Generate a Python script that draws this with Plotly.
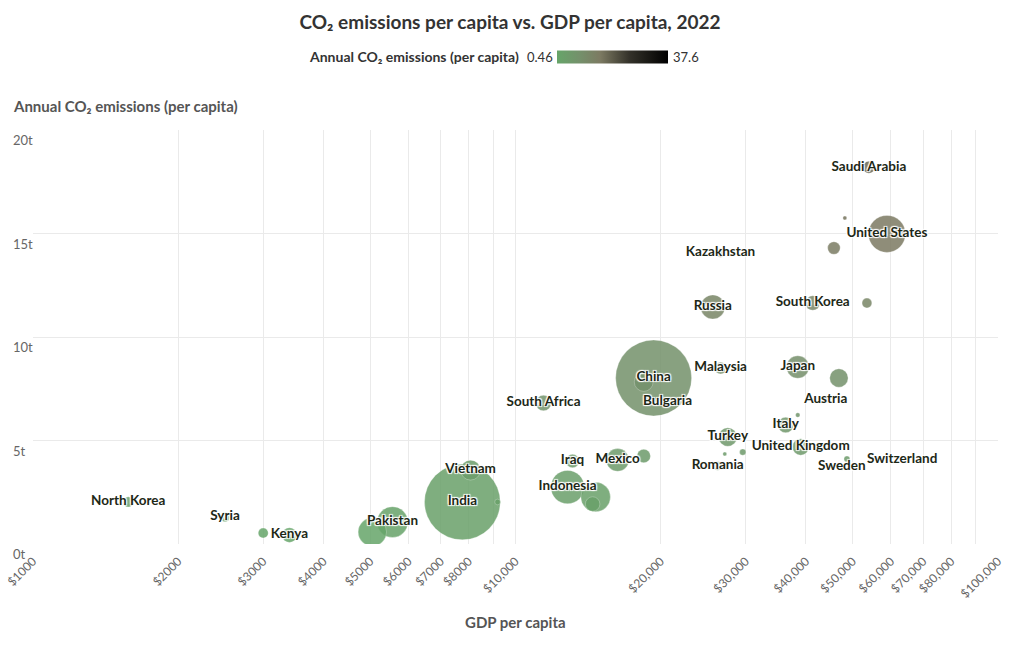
import math
import plotly.graph_objects as go

# ---- data ----
countries = ["North Korea", "Syria", "Kenya", "Unlabeled A", "Nigeria", "Pakistan", "India",
             "Unlabeled B", "Vietnam", "South Africa", "Iraq", "Mexico", "Argentina", "Indonesia",
             "Brazil", "Colombia", "China", "Iran", "Bulgaria", "Malaysia", "Japan", "Germany",
             "Austria", "Italy", "Unlabeled C", "Turkey", "Unlabeled D", "Unlabeled E", "Romania",
             "United Kingdom", "Sweden", "Switzerland", "Kazakhstan", "Russia", "South Korea",
             "Taiwan", "Saudi Arabia", "Unlabeled F", "United States", "Canada"]
gdp_per_capita = [1575, 2500, 3400, 3000, 5050, 5560, 7760,
                  9180, 8070, 11430, 13130, 16280, 18440, 12820,
                  14660, 14450, 19330, 18440, 20660, 26620, 38460, 46800,
                  43970, 36310, 38460, 27540, 27150, 29580, 26240,
                  39000, 47450, 48630, 26600, 25640, 41300,
                  53500, 54000, 48150, 58860, 45700]
co2_per_capita = [2.03, 1.30, 0.43, 0.53, 0.58, 1.06, 2.03,
                  2.03, 3.57, 6.81, 4.01, 4.06, 4.25, 2.75,
                  2.27, 1.93, 8.02, 7.83, 6.86, 8.50, 8.55, 8.02,
                  6.96, 5.75, 6.23, 5.17, 4.35, 4.44, 3.77,
                  4.69, 3.72, 4.11, 14.06, 11.45, 11.64,
                  11.64, 18.2, 15.75, 14.98, 14.3]
population_m = [26, 22, 54, 25, 200, 235, 1417,
                8, 98, 60, 44, 127, 45, 275,
                215, 52, 1426, 88, 6.8, 34, 125, 84,
                9, 59, 5, 85, 4, 10, 19,
                67, 10.5, 8.8, 19, 144, 52,
                24, 36, 4, 338, 39]
labels = ["North Korea", "Syria", "Kenya", "", "", "Pakistan", "India",
          "", "Vietnam", "South Africa", "Iraq", "Mexico", "", "Indonesia",
          "", "", "China", "", "Bulgaria", "Malaysia", "Japan", "",
          "Austria", "Italy", "", "Turkey", "", "", "Romania",
          "United Kingdom", "Sweden", "Switzerland", "Kazakhstan", "Russia", "South Korea",
          "", "Saudi Arabia", "", "United States", ""]
side_labels = ["Switzerland"]  # labels set to the right of their bubble

color_min, color_max = 0.46, 37.6
x_tickvals = [1000, 2000, 3000, 4000, 5000, 6000, 7000, 8000, 9000,
              10000, 20000, 30000, 40000, 50000, 60000, 70000, 80000, 90000, 100000]
x_ticktext = ["$1000", "$2000", "$3000", "$4000", "$5000", "$6000", "$7000", "$8000", "",
              "$10,000", "$20,000", "$30,000", "$40,000", "$50,000", "$60,000", "$70,000",
              "$80,000", "", "$100,000"]
y_tickvals = [0, 5, 10, 15, 20]
y_ticktext = ["0t", "5t", "10t", "15t", "20t"]

FONT = "Lato"
W, H = 1020, 650
ML, MR, MT, MB = 33, 22, 130, 106
PW, PH = W - ML - MR, H - MT - MB
LABEL_FONT = dict(family=FONT, size=13.5, color="#1d2817", weight="bold", shadow="auto")


def px_x(p):
    return (p - ML) / PW


def px_y(p):
    return (H - MB - p) / PH


# draw big bubbles first
order = sorted(range(len(countries)), key=lambda i: -population_m[i])
bx = [gdp_per_capita[i] for i in order]
by = [co2_per_capita[i] for i in order]
bs = [population_m[i] for i in order]
bn = [countries[i] for i in order]

colorscale = [[0.0, "#66a569"], [0.2, "#74916b"], [0.39, "#7c7a62"],
              [0.65, "#34322a"], [1.0, "#000000"]]

fig = go.Figure()
fig.add_trace(go.Scatter(
    x=bx, y=by, mode="markers", text=bn, hoverinfo="text",
    marker=dict(
        size=bs, sizemode="area", sizeref=2 * max(population_m) / (76 ** 2), sizemin=2,
        color=by, colorscale=colorscale, cmin=color_min, cmax=color_max,
        opacity=0.85, line=dict(color="rgba(255,255,255,0.5)", width=0.6),
        colorbar=dict(
            orientation="h", lenmode="pixels", len=111, thickness=13,
            x=px_x(612.5), xanchor="center", y=px_y(56.5), yanchor="middle",
            showticklabels=False, ticks="", outlinewidth=0, xpad=0, ypad=0,
        ),
    ),
    showlegend=False,
))

centre_text = ["" if l in side_labels else l for l in labels]
fig.add_trace(go.Scatter(
    x=gdp_per_capita, y=co2_per_capita, mode="text", text=centre_text,
    textposition="middle center", hoverinfo="skip",
    textfont=LABEL_FONT, showlegend=False,
))

annotations = []
for i, l in enumerate(labels):
    if l in side_labels:
        annotations.append(dict(x=math.log10(gdp_per_capita[i]), y=co2_per_capita[i],
                                xref="x", yref="y", text=l, showarrow=False,
                                xanchor="left", yanchor="middle",
                                xshift=18, yshift=1, font=LABEL_FONT))
for v, t in zip(y_tickvals, y_ticktext):
    annotations.append(dict(x=px_x(11), xref="paper", y=v, yref="y", text=t, showarrow=False,
                            xanchor="left", yanchor="middle", yshift=-10,
                            font=dict(family=FONT, size=13, color="#666666")))
annotations += [
    dict(x=px_x(11), y=px_y(106), xref="paper", yref="paper", xanchor="left", yanchor="middle",
         text="<b>Annual CO₂ emissions (per capita)</b>", showarrow=False,
         font=dict(family=FONT, size=15, color="#555555")),
    dict(x=0.5, y=px_y(622), xref="paper", yref="paper", xanchor="center", yanchor="middle",
         text="<b>GDP per capita</b>", showarrow=False,
         font=dict(family=FONT, size=15, color="#555555")),
    dict(x=px_x(521), y=px_y(56.5), xref="paper", yref="paper", xanchor="right", yanchor="middle",
         text="<b>Annual CO₂ emissions (per capita)</b>", showarrow=False,
         font=dict(family=FONT, size=14, color="#333333")),
    dict(x=px_x(555), y=px_y(56.5), xref="paper", yref="paper", xanchor="right", yanchor="middle",
         text=str(color_min), showarrow=False, font=dict(family=FONT, size=13, color="#333333")),
    dict(x=px_x(671), y=px_y(56.5), xref="paper", yref="paper", xanchor="left", yanchor="middle",
         text=str(color_max), showarrow=False, font=dict(family=FONT, size=13, color="#333333")),
]

fig.update_layout(
    width=W, height=H, margin=dict(l=ML, r=MR, t=MT, b=MB, autoexpand=False),
    paper_bgcolor="white", plot_bgcolor="white",
    font=dict(family=FONT, color="#444444"),
    title=dict(text="<b>CO₂ emissions per capita vs. GDP per capita, 2022</b>",
               x=0.5, xref="container", y=1 - 22 / H, yref="container", yanchor="middle",
               xanchor="center", font=dict(family=FONT, size=19, color="#333333")),
    xaxis=dict(type="log", range=[3, 5], tickvals=x_tickvals, ticktext=x_ticktext,
               tickangle=-45, tickfont=dict(family=FONT, size=12, color="#666666"),
               ticklabelstandoff=7,
               showgrid=True, gridcolor="#eaeaea", gridwidth=1, zeroline=False,
               showline=False, ticks="", fixedrange=True, automargin=False),
    yaxis=dict(range=[0, 20], tickvals=y_tickvals, showticklabels=False,
               showgrid=True, gridcolor="#eaeaea", gridwidth=1, zeroline=False,
               showline=False, ticks="", fixedrange=True, automargin=False),
    annotations=annotations,
)

fig.write_html("out.html", config={"displayModeBar": False},
               post_script="document.body.style.margin='0';document.body.style.padding='0';")
